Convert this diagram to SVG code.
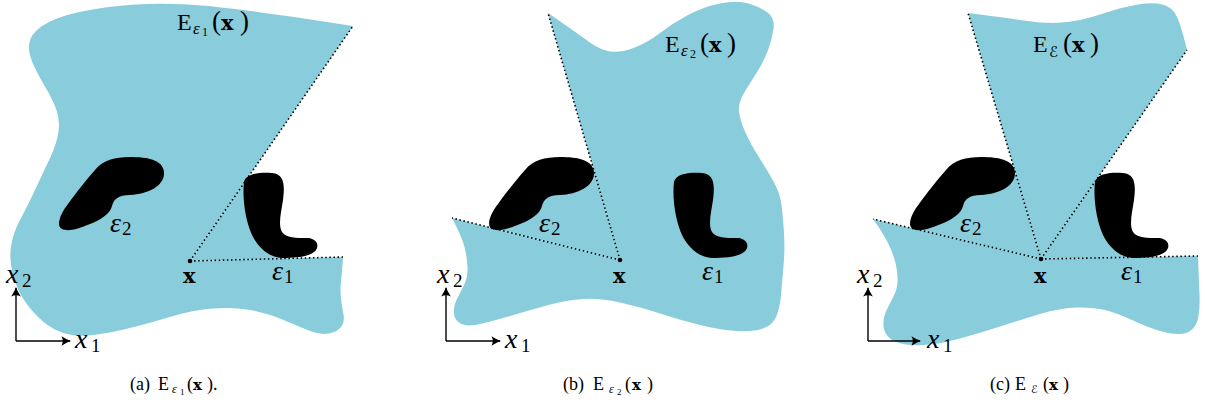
<svg xmlns="http://www.w3.org/2000/svg" xmlns:xlink="http://www.w3.org/1999/xlink" width="1205" height="414" viewBox="0 0 1205 414">
<style>
.region{fill:#89ccdc;stroke:none}
.blob{fill:#000}
.ray{stroke:#000;stroke-width:1.6;stroke-dasharray:1.5 2.6;fill:none}
.axis{stroke:#000;stroke-width:1.4;fill:none;marker-end:url(#arr)}
.t{font-family:"Liberation Serif","DejaVu Serif",serif;fill:#000}
.it{font-family:"Liberation Serif","DejaVu Serif",serif;font-style:italic}
.bx{font-family:"DejaVu Serif","Liberation Serif",serif;font-weight:bold}
.scr{font-family:"DejaVu Serif","DejaVu Sans","Noto Sans",serif;font-style:italic}
.lab{font-size:24px}
.big{font-size:28px}
.cap{font-size:18px}
</style>
<defs>
<marker id="arr" markerUnits="userSpaceOnUse" viewBox="-10 -6 12 12" refX="0" refY="0" markerWidth="12" markerHeight="12" orient="auto">
<path d="M-8.5,-4.8 Q-3,-1.2 1,0 Q-3,1.2 -8.5,4.8 Q-6,0 -8.5,-4.8 Z" fill="#000"/>
</marker>
<path id="e2" d="M62,229 C56,226 60,214 68,204 C76,193 86,180 95,170 C103,160 115,157 130,157 C148,157 163,160 164,172 C165,186 148,194 130,195 C118,195 114,199 112,206 C110,214 100,220 90,224 C78,229 68,232 62,229 Z"/>
<path id="e1" d="M244,182 C246,174 258,172 272,173 C284,174 285,184 283,200 C281,213 278,225 282,232 C286,238 296,238 308,238 C318,239 320,247 314,252 C308,257 295,258 282,258 C268,257 258,247 252,235 C246,222 242,200 244,182 Z"/>
</defs>

<!-- Panel (a) -->
<g id="panel-a">
<g id="region-a">
<path class="region" d="M353,26 L190,261 L343,257 Q342,273 341,281.5 Q340,290 341,298.5 Q342,307 343.5,314.5 Q345,322 341,327 Q337,332 328.5,333.5 Q320,335 310,331 Q300,327 283.5,320 Q267,313 250,310 Q233,307 213,308.5 Q193,310 171.5,316.5 Q150,323 130,328 Q110,333 93.5,335 Q77,337 65,333.5 Q53,330 43,321.5 Q33,313 25,301.5 Q17,290 13,275 Q9,260 11,246.5 Q13,233 20,220 Q27,207 35,190 Q43,173 50,158 Q57,143 58.5,131.5 Q60,120 56.5,110 Q53,100 45,86.5 Q37,73 32,61.5 Q27,50 30,40 Q33,30 50,21.5 Q67,13 105,7.5 Q143,2 188,4.5 Q233,7 353,26 Z"/>
<path class="region" d="M190,261 L245.5,181 L252,190 L262,235 L285,252 L288,258.4 Z"/>
</g>
<g id="obst-a-e2"><use xlink:href="#e2" href="#e2" class="blob"/></g>
<g id="obst-a-e1"><use xlink:href="#e1" href="#e1" class="blob"/></g>
<g id="labels-a" class="t">
<text class="lab"><tspan x="177" y="30">E</tspan><tspan class="it" font-size="17" x="193" y="34">ε</tspan><tspan font-size="12" x="202" y="36">1</tspan><tspan font-size="27" x="212" y="30">(</tspan><tspan class="bx" font-size="21" x="221" y="30">x</tspan><tspan font-size="27" x="240" y="30">)</tspan></text>
<text class="big"><tspan class="it" x="110" y="232">ε</tspan><tspan font-size="19" x="122" y="235">2</tspan></text>
<text class="big"><tspan class="it" x="272" y="280">ε</tspan><tspan font-size="19" x="284" y="283">1</tspan></text>
<text class="bx" font-size="21" x="183" y="283">x</text>
<text class="big"><tspan class="it" x="6" y="283">x</tspan><tspan font-size="19" x="22" y="287">2</tspan></text>
<text class="big"><tspan class="it" x="75" y="348">x</tspan><tspan font-size="19" x="91" y="352">1</tspan></text>
<text class="cap"><tspan x="130" y="390">(a)</tspan><tspan x="158" y="390">E</tspan><tspan class="it" font-size="12" x="172" y="393">ε</tspan><tspan font-size="9" x="180" y="395">1</tspan><tspan x="187" y="390">(</tspan><tspan class="bx" font-size="15" x="193" y="390">x</tspan><tspan x="207" y="390">).</tspan></text>
</g>
</g>

<!-- Panel (b) -->
<g id="panel-b">
<g id="region-b">
<path class="region" d="M548,13 Q577,33 588.5,41.5 Q600,50 610,51.5 Q620,53 633.5,48 Q647,43 660,33 Q673,23 688,15 Q703,7 720,3.5 Q737,0 748.5,3.5 Q760,7 767.5,12.5 Q775,18 773.5,29 Q772,40 767.5,51.5 Q763,63 756.5,73 Q750,83 744,93 Q738,103 739,111.5 Q740,120 745,131.5 Q750,143 758.5,156.5 Q767,170 773.5,181.5 Q780,193 781.5,205 Q783,217 784,233.5 Q785,250 783.5,266.5 Q782,283 781,295 Q780,307 776.5,316 Q773,325 763,328.5 Q753,332 736.5,331 Q720,330 700,325 Q680,320 660,313.5 Q640,307 620,302.5 Q600,298 583.5,299 Q567,300 548.5,305 Q530,310 513.5,315 Q497,320 482.5,323.5 Q468,327 461.5,324 Q455,321 454,314 Q453,307 456.5,300 Q460,293 464,285 Q468,277 467.5,267 Q467,257 464.5,247 Q462,237 452,218 L620,260 Z"/>
<path class="region" d="M620,260 L594.4,172 L590,172 L560,185 L530,200 L505,222 L498,229.5 Z"/>
</g>
<g id="obst-b-e2"><use xlink:href="#e2" href="#e2" class="blob" transform="translate(430,0)"/></g>
<g id="obst-b-e1"><use xlink:href="#e1" href="#e1" class="blob" transform="translate(430,0)"/></g>
<g id="labels-b" class="t">
<text class="lab"><tspan x="665" y="52">E</tspan><tspan class="it" font-size="17" x="681" y="56">ε</tspan><tspan font-size="12" x="690" y="58">2</tspan><tspan font-size="27" x="700" y="52">(</tspan><tspan class="bx" font-size="21" x="709" y="52">x</tspan><tspan font-size="27" x="727" y="52">)</tspan></text>
<text class="big"><tspan class="it" x="539" y="232">ε</tspan><tspan font-size="19" x="551" y="235">2</tspan></text>
<text class="big"><tspan class="it" x="702" y="280">ε</tspan><tspan font-size="19" x="714" y="283">1</tspan></text>
<text class="bx" font-size="21" x="613" y="283">x</text>
<text class="big"><tspan class="it" x="437" y="283">x</tspan><tspan font-size="19" x="453" y="287">2</tspan></text>
<text class="big"><tspan class="it" x="505" y="348">x</tspan><tspan font-size="19" x="521" y="352">1</tspan></text>
<text class="cap"><tspan x="563" y="390">(b)</tspan><tspan x="593" y="390">E</tspan><tspan class="it" font-size="12" x="609" y="393">ε</tspan><tspan font-size="9" x="617" y="395">2</tspan><tspan x="625" y="390">(</tspan><tspan class="bx" font-size="15" x="632" y="390">x</tspan><tspan x="647" y="390">)</tspan></text>
</g>
</g>

<!-- Panel (c) -->
<g id="panel-c">
<g id="region-c">
<path class="region" d="M968,13 Q1007,18 1023.5,20.5 Q1040,23 1053.5,23 Q1067,23 1080,20 Q1093,17 1108,12 Q1123,7 1138,4.5 Q1153,2 1162.5,4.5 Q1172,7 1176.5,16 Q1181,25 1187,50 L1041,259 L1198,256 Q1199,283 1199.5,295 Q1200,307 1198.5,316 Q1197,325 1192,329.5 Q1187,334 1178.5,334 Q1170,334 1158.5,330.5 Q1147,327 1132,320 Q1117,313 1105,310 Q1093,307 1076.5,307.5 Q1060,308 1040,314 Q1020,320 1000,326.5 Q980,333 960,338.5 Q940,344 923.5,345 Q907,346 896.5,342 Q886,338 884,329 Q882,320 886,311.5 Q890,303 893.5,296.5 Q897,290 897.5,281.5 Q898,273 895.5,263 Q893,253 888,243 Q883,233 873,219 L1041,259 Z"/>
<path class="region" d="M1041,259 L1015.2,172 L1011,172 L981,185 L951,200 L926,222 L918,229.7 Z"/>
<path class="region" d="M1041,259 L1094.8,182 L1103,190 L1113,235 L1136,252 L1139,257.3 Z"/>
</g>
<g id="obst-c-e2"><use xlink:href="#e2" href="#e2" class="blob" transform="translate(851,0)"/></g>
<g id="obst-c-e1"><use xlink:href="#e1" href="#e1" class="blob" transform="translate(851,0)"/></g>
<g id="labels-c" class="t">
<text class="lab"><tspan x="1033" y="52">E</tspan><tspan class="scr" font-size="15" x="1049" y="57">ℰ</tspan><tspan font-size="27" x="1063" y="52">(</tspan><tspan class="bx" font-size="21" x="1072" y="52">x</tspan><tspan font-size="27" x="1090" y="52">)</tspan></text>
<text class="big"><tspan class="it" x="960" y="232">ε</tspan><tspan font-size="19" x="972" y="235">2</tspan></text>
<text class="big"><tspan class="it" x="1121" y="280">ε</tspan><tspan font-size="19" x="1133" y="283">1</tspan></text>
<text class="bx" font-size="21" x="1034" y="283">x</text>
<text class="big"><tspan class="it" x="857" y="283">x</tspan><tspan font-size="19" x="873" y="287">2</tspan></text>
<text class="big"><tspan class="it" x="927" y="348">x</tspan><tspan font-size="19" x="943" y="352">1</tspan></text>
<text class="cap"><tspan x="990" y="390">(c)</tspan><tspan x="1015" y="390">E</tspan><tspan class="scr" font-size="11" x="1031" y="393">ℰ</tspan><tspan x="1043" y="390">(</tspan><tspan class="bx" font-size="15" x="1049" y="390">x</tspan><tspan x="1063" y="390">)</tspan></text>
</g>
</g>

<!-- Connectors: visibility rays and axes -->
<g id="connectors">
<path class="ray" d="M190,261 L353,26"/>
<path class="ray" d="M190,261 L343,257"/>
<path class="ray" d="M620,260 L548,13"/>
<path class="ray" d="M620,260 L452,218"/>
<path class="ray" d="M1041,259 L968,13"/>
<path class="ray" d="M1041,259 L1187,50"/>
<path class="ray" d="M1041,259 L1198,256"/>
<path class="ray" d="M1041,259 L873,219"/>
<path class="axis" d="M16,341 L16,288"/>
<path class="axis" d="M16,341 L70,341"/>
<path class="axis" d="M446,341 L446,288"/>
<path class="axis" d="M446,341 L500,341"/>
<path class="axis" d="M868,341 L868,288"/>
<path class="axis" d="M868,341 L920,341"/>
</g>
<g id="points">
<circle cx="190" cy="261" r="2.3" fill="#000"/>
<circle cx="620" cy="260" r="2.3" fill="#000"/>
<circle cx="1041" cy="259" r="2.3" fill="#000"/>
</g>
</svg>
